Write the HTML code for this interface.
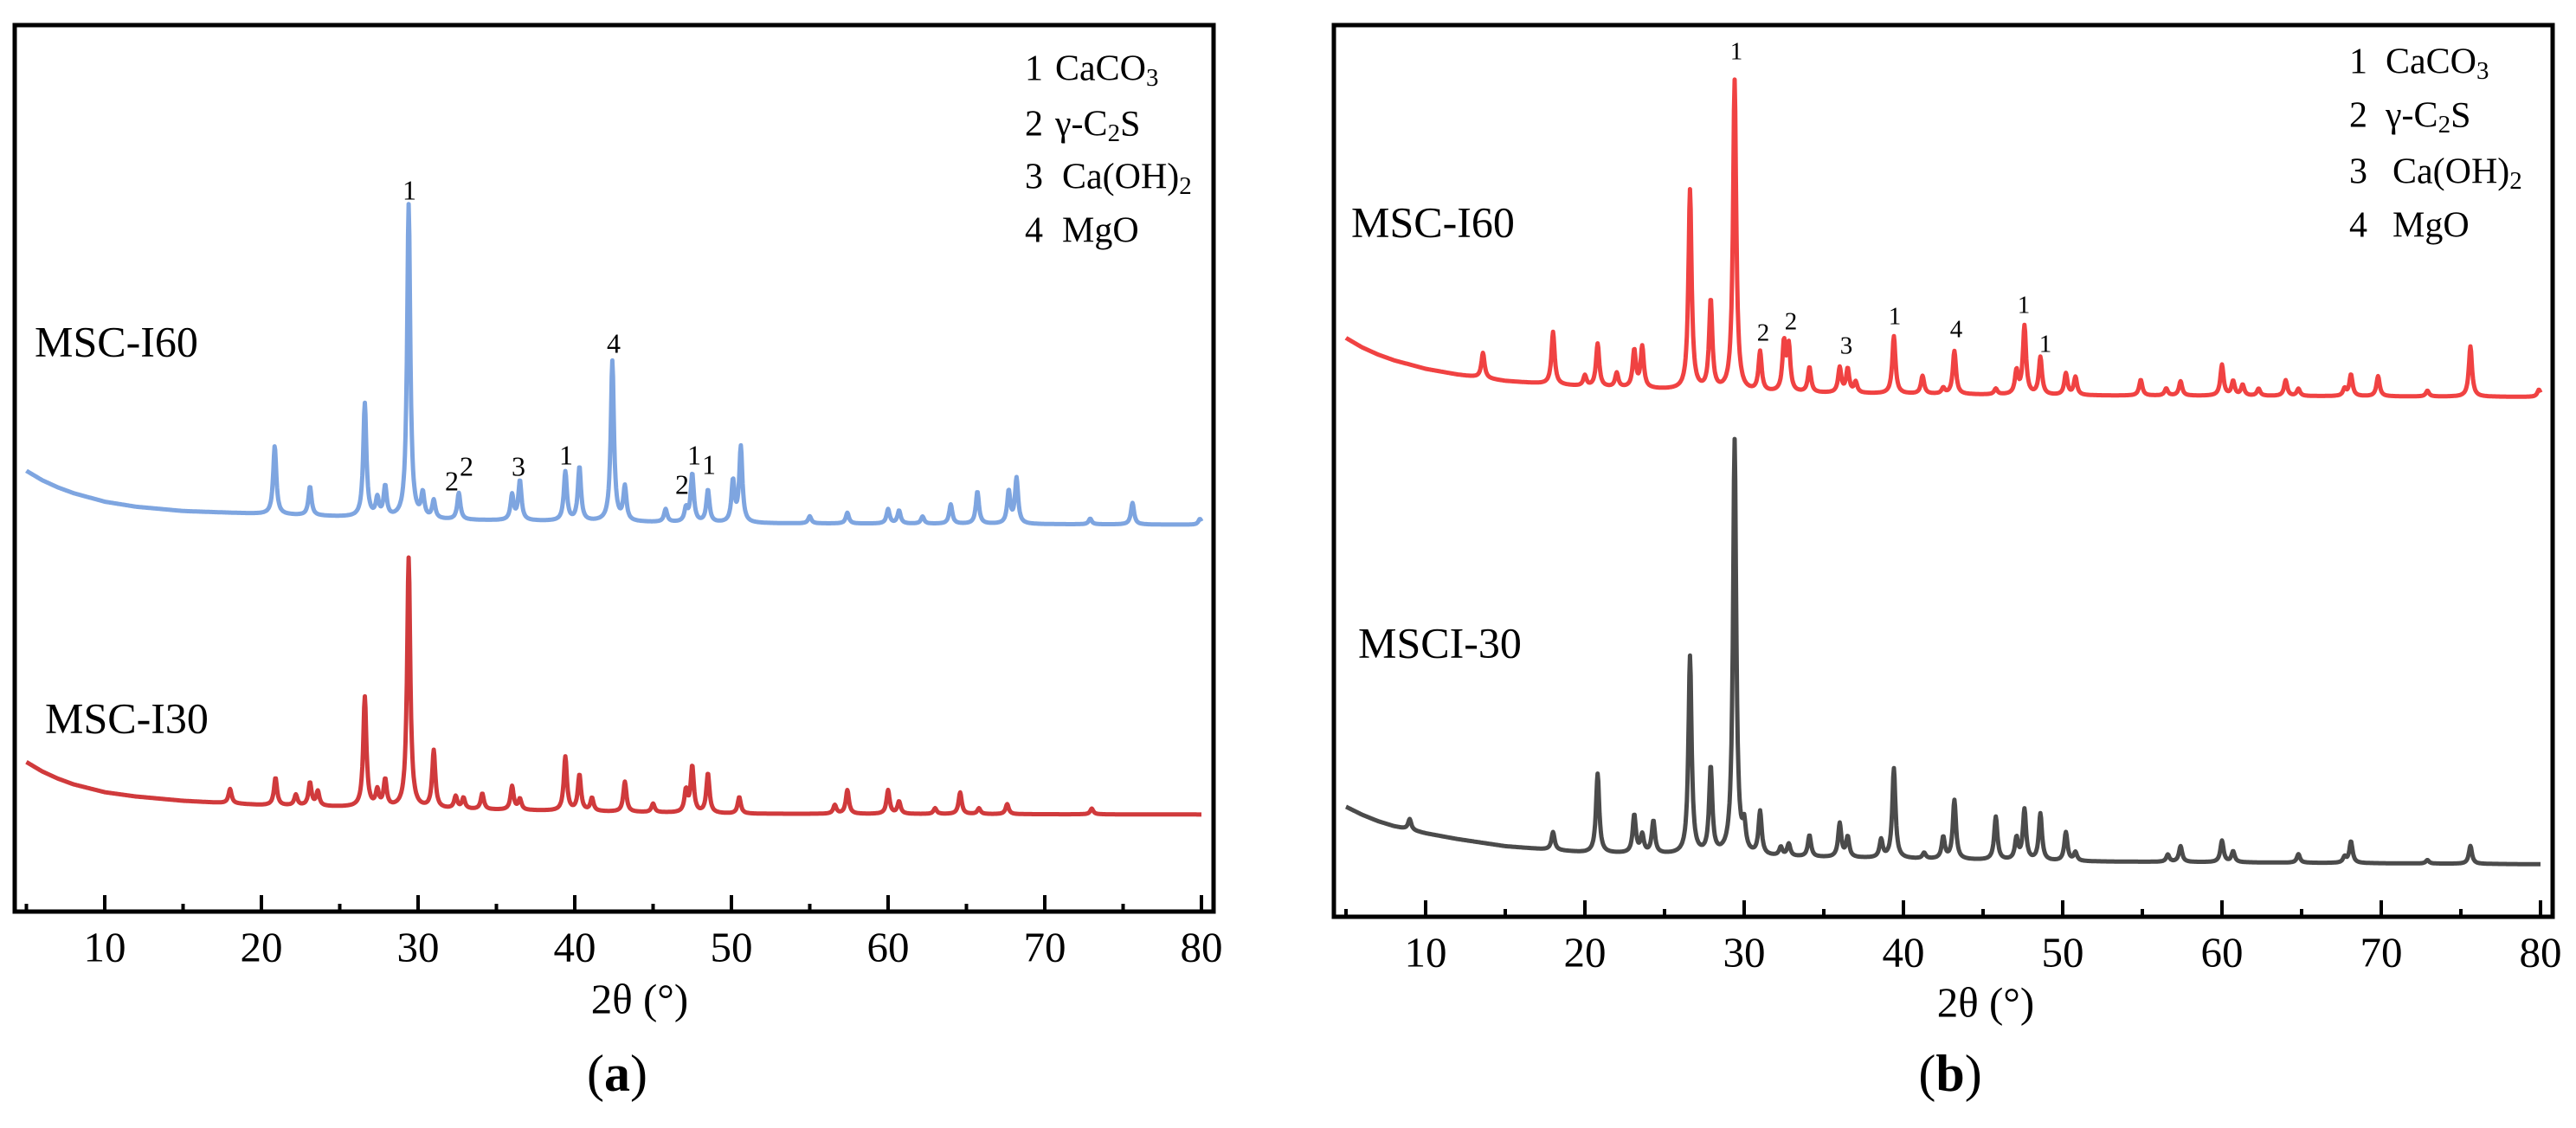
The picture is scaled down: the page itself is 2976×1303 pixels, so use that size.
<!DOCTYPE html>
<html><head><meta charset="utf-8">
<style>
html,body{margin:0;padding:0;background:#fff;overflow:hidden;}
svg{display:block;font-family:"Liberation Serif",serif;}
</style></head>
<body>
<svg id="chart" width="2976" height="1303" viewBox="0 0 2976 1303" xmlns="http://www.w3.org/2000/svg"></svg>
<script>
// ---------- DATA ----------
const xTicks = [10,20,30,40,50,60,70,80];
const xMinorTicks = [5,15,25,35,45,55,65,75];
const baselineX = [5,6,7,8,10,12,15,20,30,50,80];

// Panel (a) MSC-I60 (blue)
const aI60BaseY = [613,600,590,582,570,563,557,553,545,540,538];
const aI60PeakPos = [20.85,23.1,26.6,27.4,27.9,29.4,30.3,31.0,32.6,36.0,36.5,39.4,40.3,42.4,43.2,45.8,47.1,47.5,48.5,50.1,50.6,55.0,57.4,60.0,60.7,62.2,64.0,65.7,67.7,68.2,72.9,75.6,79.9];
const aI60PeakH   = [95,40,158,25,42,437,33,25,37,35,55,68,75,223,47,18,18,67,45,57,105,10,15,20,18,10,27,45,45,63,8,30,8];
// Panel (a) MSC-I30 (red)
const aI30BaseY = [208,195,185,177,166,160,154,148,143,136,135];
const aI30PeakPos = [18.0,20.9,22.2,23.1,23.6,26.6,27.4,27.9,29.4,31.0,32.4,32.9,34.1,36.0,36.5,39.4,40.3,41.1,43.2,45.0,47.1,47.5,48.5,50.5,56.6,57.4,60.0,60.7,63.0,64.6,65.8,67.6,73.0];
const aI30PeakH   = [20,38,15,32,20,153,22,37,348,80,17,15,22,33,15,75,50,18,42,12,30,64,55,23,12,33,33,17,8,30,8,14,8];
// Panel (b) MSC-I60 (red)
const bI60BaseY = [805,792,782,774,762,754,745,737,729,725,723];
const bI60PeakPos = [13.6,18.0,20.0,20.8,22.0,23.1,23.6,26.6,27.9,29.4,31.0,32.5,32.8,34.1,36.0,36.5,37.0,39.4,41.2,42.5,43.2,45.8,47.1,47.6,48.6,50.2,50.8,54.9,56.5,57.4,60.0,60.7,61.3,62.3,64.0,64.8,67.7,68.1,69.8,72.9,75.6,79.9];
const bI60PeakH   = [35,73,15,60,20,52,57,278,125,433,55,67,62,35,35,33,15,80,25,8,60,8,32,95,52,30,25,22,10,20,43,20,15,10,22,10,10,30,28,8,70,10];
// Panel (b) MSCI-30 (gray)
const bI30BaseY = [153,142,133,126,116,108,98,89,84,77,73];
const bI30PeakPos = [9.0,18.0,20.8,23.1,23.6,24.3,26.6,27.9,29.4,30.0,31.0,32.3,32.8,34.1,36.0,36.5,38.6,39.4,41.3,42.5,43.2,45.8,47.1,47.6,48.6,50.2,50.8,56.6,57.4,60.0,60.7,64.8,67.7,68.1,72.9,75.6];
const bI30PeakH   = [15,25,110,53,25,45,275,120,577,35,60,12,17,30,47,28,25,125,8,30,82,60,30,70,65,40,12,10,22,30,15,12,8,30,5,25];

// ---------- LAYOUT ----------
const NS="http://www.w3.org/2000/svg";
const svg=document.getElementById('chart');
function mk(tag,attrs,parent){const e=document.createElementNS(NS,tag);for(const k in attrs)e.setAttribute(k,attrs[k]);(parent||svg).appendChild(e);return e;}

const panels=[
 {id:'a',fl:17,fr:1402,ft:29,fb:1053,x10:121,per10:181,k:1/1.204,
  series:[{name:'msc-i60',base:aI60BaseY,pos:aI60PeakPos,h:aI60PeakH,color:'#7ea5e0'},
          {name:'msc-i30',base:aI30BaseY,pos:aI30PeakPos,h:aI30PeakH,color:'#d03a3c'}],
  labels:[['MSC-I60',40,400],['MSC-I30',52,835]],
  legend:{nx:1184,tx:1219,rows:[83,147,208,270]},
  peaks:[['1',473,223],['2',522,559],['2',539,542],['3',599,542],['1',654,529],['4',709,400],['2',788,563],['1',802,529],['1',819,540]],
  peakFont:32,tickY:1099,titleY:1159,capY:1246,capX:713,titleX:739},
 {id:'b',fl:1541,fr:2949,ft:29,fb:1059,x10:1647,per10:184,k:1/1.204,
  series:[{name:'msc-i60',base:bI60BaseY,pos:bI60PeakPos,h:bI60PeakH,color:'#f04242'},
          {name:'msci-30',base:bI30BaseY,pos:bI30PeakPos,h:bI30PeakH,color:'#4b4b4b'}],
  labels:[['MSC-I60',1561,262],['MSCI-30',1569,748]],
  legend:{nx:2714,tx:2756,rows:[75,137,202,264]},
  peaks:[['1',2006,62],['2',2037,387],['2',2069,374],['3',2133,402],['1',2189,368],['4',2260,383],['1',2338,355],['1',2363,400]],
  peakFont:29,tickY:1105,titleY:1163,capY:1246,capX:2253,titleX:2294}
];

function interpBase(bx,by,v){
  if(v<=bx[0])return by[0];
  for(let i=1;i<bx.length;i++){if(v<=bx[i]){const t=(v-bx[i-1])/(bx[i]-bx[i-1]);return by[i-1]+t*(by[i]-by[i-1]);}}
  return by[by.length-1];
}

panels.forEach(p=>{
  const g=mk('g',{});
  
  
  const xs=v=>p.x10+(v-10)*p.per10/10;
  const ys=v=>p.fb-v*p.k;
  p.series.forEach(s=>{
    let d='';
    const w=0.12;
    for(let v=5;v<=80.0001;v+=0.04){
      let y=interpBase(baselineX,s.base,v);
      for(let i=0;i<s.pos.length;i++){const dx=(v-s.pos[i])/w;y+=s.h[i]/(1+dx*dx);}
      d+=(d?'L':'M')+xs(v).toFixed(1)+' '+ys(y).toFixed(1);
    }
    const path=mk('path',{d:d,fill:'none',stroke:s.color,'stroke-width':5,'stroke-linejoin':'round'},g);
    
    
  });
  const fr=mk('rect',{x:p.fl,y:p.ft,width:p.fr-p.fl,height:p.fb-p.ft,fill:'none',stroke:'#000','stroke-width':5},g);
  
  
  xTicks.forEach(t=>{
    const x=xs(t);
    const tk=mk('line',{x1:x,x2:x,y1:p.fb,y2:p.fb-19,stroke:'#000','stroke-width':4},g);
    
    
    const tl=mk('text',{x:x,y:p.tickY,'font-size':49,'text-anchor':'middle','dominant-baseline':'middle',fill:'#000'},g);
    tl.textContent=t;
    
    
  });
  xMinorTicks.forEach(t=>{
    const x=xs(t);
    const tk=mk('line',{x1:x,x2:x,y1:p.fb,y2:p.fb-9,stroke:'#000','stroke-width':4},g);
    
    
  });
  const tt=mk('text',{x:p.titleX,y:p.titleY,'font-size':49,'text-anchor':'middle','dominant-baseline':'middle'},g);
  tt.textContent='2θ (°)';
  
  
  const cap=mk('text',{x:p.capX,y:p.capY,'font-size':60,'text-anchor':'middle','dominant-baseline':'middle'},g);
  cap.innerHTML='(<tspan font-weight="bold">'+p.id+'</tspan>)';
  
  
  p.labels.forEach(l=>{
    const t=mk('text',{x:l[1],y:l[2],'font-size':50,'dominant-baseline':'middle'},g);
    t.textContent=l[0];
    
    
  });
  p.peaks.forEach(l=>{
    const t=mk('text',{x:l[1],y:l[2],'font-size':p.peakFont,'text-anchor':'middle','dominant-baseline':'middle'},g);
    t.textContent=l[0];
    
    
  });
  const names=['CaCO<tspan font-size="29" dy="9">3</tspan>','γ-C<tspan font-size="29" dy="9">2</tspan><tspan dy="-9">S</tspan>','Ca(OH)<tspan font-size="29" dy="9">2</tspan>','MgO'];
  p.legend.rows.forEach((ry,i)=>{
    const n=mk('text',{x:p.legend.nx,y:ry,'font-size':42,'dominant-baseline':'middle'},g);
    n.textContent=String(i+1);
    
    
    const t=mk('text',{x:p.legend.tx+(i>=2?8:0),y:ry,'font-size':42,'dominant-baseline':'middle'},g);
    t.innerHTML=names[i];
    
    
  });
});
</script>
</body></html>
